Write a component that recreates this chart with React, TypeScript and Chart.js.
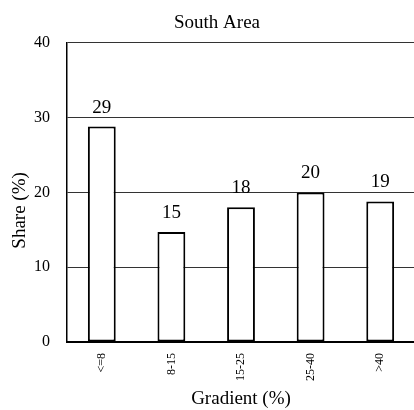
import React, { useEffect, useRef } from "react";
import { Chart, registerables } from "chart.js";

Chart.register(...registerables);

const categories = ["<=8", "8-15", "15-25", "25-40", ">40"];
const shares = [28.8, 14.7, 18.0, 20.0, 18.8];
const yTicks = [0, 10, 20, 30, 40];
const titleText = "South Area";
const xTitle = "Gradient (%)";
const yTitle = "Share (%)";

const FONT = "'Liberation Serif', 'Times New Roman', serif";

const valueLabels = {
  id: "valueLabels",
  afterLayout(chart: any) {
    // shift the title box so the title centres where the reference has it
    if (chart.titleBlock) chart.titleBlock.left += 15;
  },
  afterDatasetsDraw(chart: any) {
    const ctx = chart.ctx;
    const meta = chart.getDatasetMeta(0);
    const data = chart.data.datasets[0].data as number[];
    ctx.save();
    ctx.font = `19px ${FONT}`;
    ctx.fillStyle = "#000";
    ctx.textAlign = "center";
    ctx.textBaseline = "alphabetic";
    meta.data.forEach((el: any, i: number) => {
      ctx.fillText(String(Math.round(data[i])), el.x, el.y - 14);
    });
    // y-axis title, placed slightly below the axis centre as in the reference
    const area = chart.chartArea;
    ctx.translate(area.left - 47, (area.top + area.bottom) / 2 + 18);
    ctx.rotate(-Math.PI / 2);
    ctx.textBaseline = "middle";
    ctx.fillText(yTitle, 0, 0);
    ctx.restore();
  },
};

export default function App() {
  const ref = useRef<HTMLCanvasElement>(null);
  useEffect(() => {
    if (!ref.current) return;
    const chart = new Chart(ref.current, {
      type: "bar",
      data: {
        labels: categories,
        datasets: [
          {
            data: shares,
            backgroundColor: "#ffffff",
            borderColor: "#000000",
            borderWidth: 2,
            borderSkipped: false,
            barPercentage: 0.4,
            categoryPercentage: 1,
          },
        ],
      },
      options: {
        responsive: false,
        animation: false,
        layout: { padding: { left: 4, right: 20, top: 0, bottom: 0 } },
        plugins: {
          legend: { display: false },
          tooltip: { enabled: false },
          title: {
            display: true,
            text: titleText,
            color: "#000",
            font: { family: FONT, size: 19, weight: "normal" },
            padding: { top: 12, bottom: 8 },
          },
        },
        scales: {
          x: {
            grid: { display: false },
            border: { display: true, color: "#000", width: 2 },
            ticks: {
              color: "#000",
              font: { family: FONT, size: 12 },
              maxRotation: 90,
              minRotation: 90,
              padding: 3,
            },
            title: {
              display: true,
              text: xTitle,
              color: "#000",
              font: { family: FONT, size: 19 },
              padding: { top: 4, bottom: 0 },
            },
            afterFit: (scale: any) => {
              scale.height = 68;
              scale.paddingLeft = 0;
              scale.paddingRight = 0;
            },
          },
          y: {
            min: 0,
            max: 40,
            afterBuildTicks: (scale: any) => {
              scale.ticks = yTicks.map((v) => ({ value: v }));
            },
            grid: { color: "#333", lineWidth: 1, drawTicks: false },
            border: { display: true, color: "#000", width: 1.5 },
            ticks: {
              color: "#000",
              font: { family: FONT, size: 16 },
              padding: 17,
            },
            title: { display: false },
            afterFit: (scale: any) => {
              scale.width = 63;
            },
          },
        },
      },
      plugins: [valueLabels],
    });
    return () => chart.destroy();
  }, []);
  return (
    <div style={{ position: "fixed", left: 0, top: 0, width: 414, height: 410, overflow: "hidden", background: "#fff" }}>
      <canvas ref={ref} width={435} height={410} style={{ display: "block" }} />
    </div>
  );
}
